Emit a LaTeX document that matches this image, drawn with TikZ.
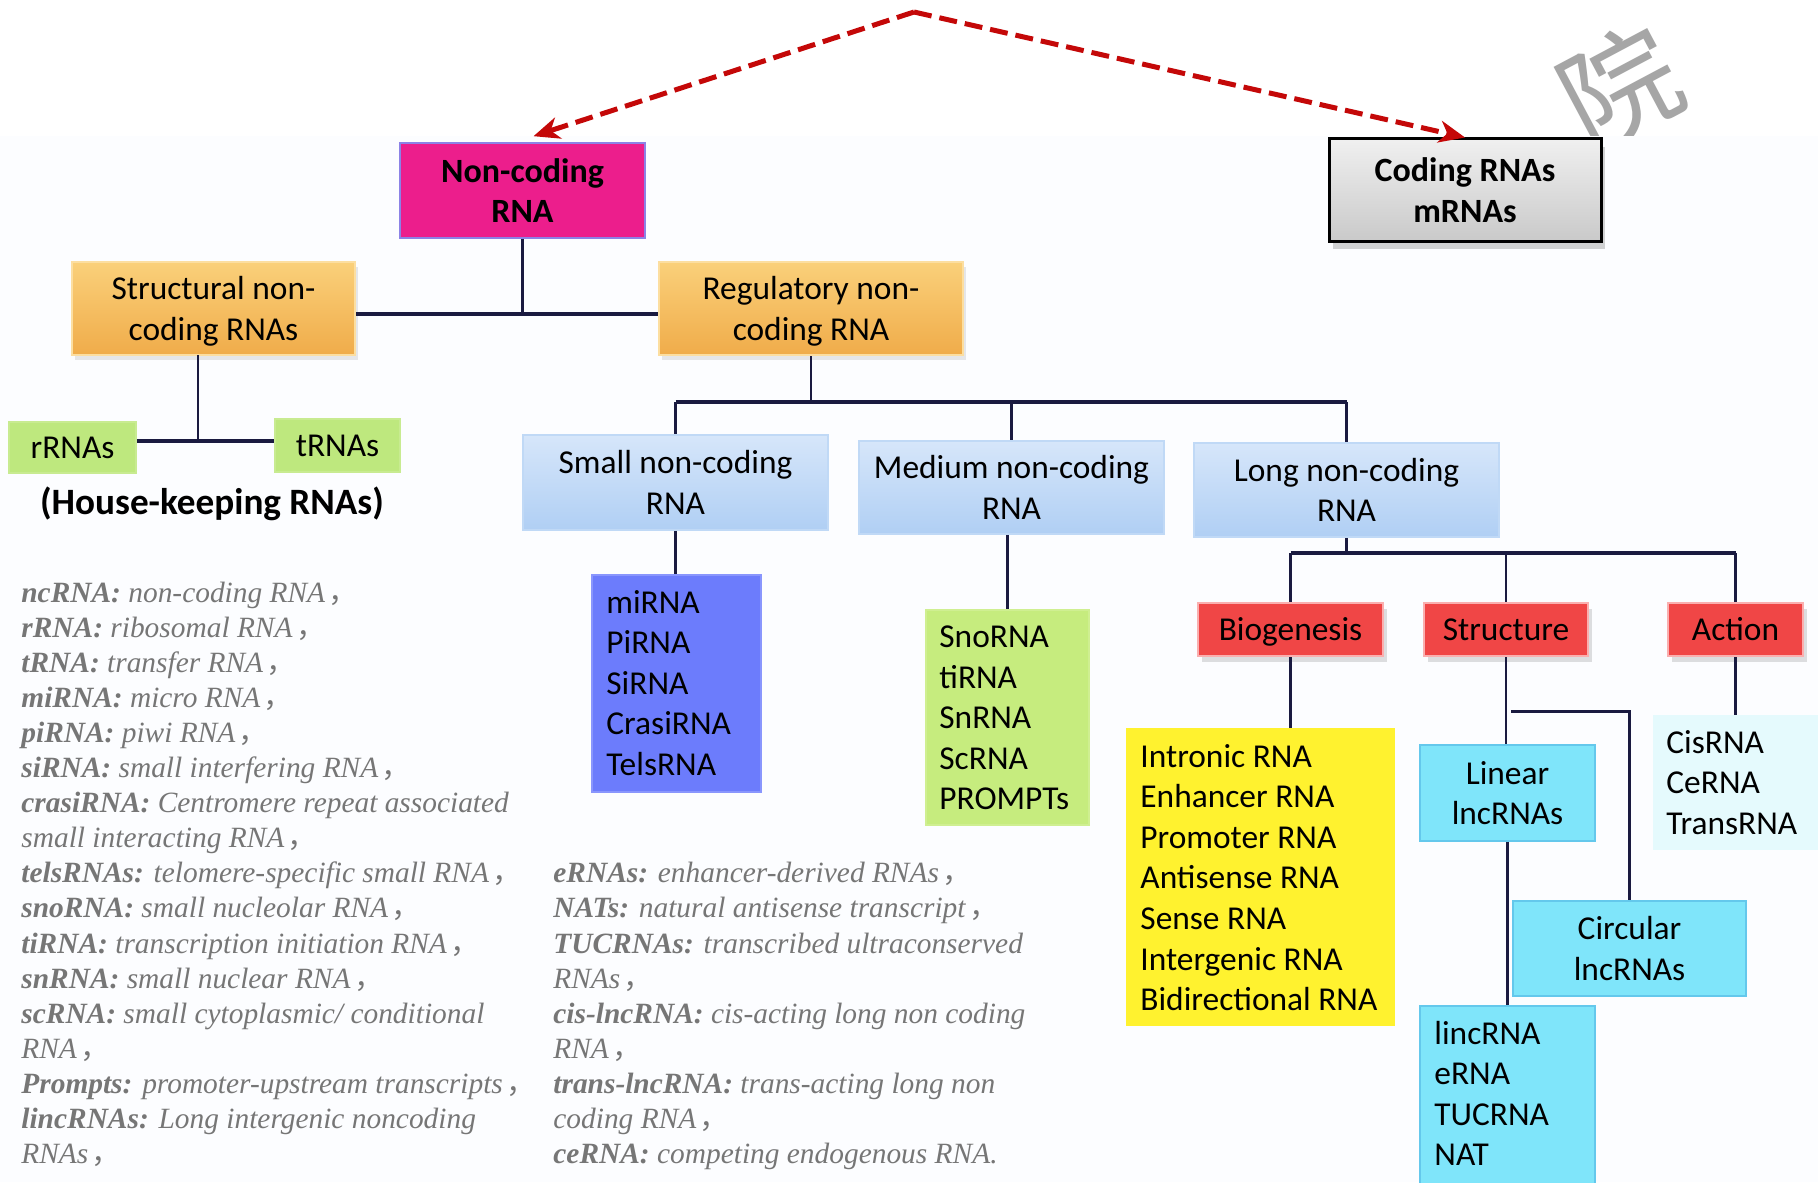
\documentclass[tikz,border=0pt]{standalone}
\usepackage{fontspec}
\setmainfont{Carlito}
\newfontfamily\deffont{Liberation Serif}
\newfontfamily\cjk{Noto Sans CJK SC}
\usetikzlibrary{shadows,arrows.meta,calc}

\definecolor{paper}{RGB}{252,253,255}
\definecolor{linkc}{RGB}{26,26,64}
\definecolor{arrowred}{RGB}{196,8,8}
\definecolor{magentabox}{RGB}{236,30,140}
\definecolor{magentaedge}{RGB}{140,130,230}
\definecolor{orangetop}{RGB}{250,208,122}
\definecolor{orangebot}{RGB}{240,172,74}
\definecolor{orangeedge}{RGB}{252,222,160}
\definecolor{leaf}{RGB}{190,232,126}
\definecolor{bluetop}{RGB}{214,230,250}
\definecolor{bluebot}{RGB}{176,207,244}
\definecolor{violetbox}{RGB}{108,124,252}
\definecolor{limebox}{RGB}{198,236,126}
\definecolor{redbox}{RGB}{240,70,70}
\definecolor{rededge}{RGB}{250,175,175}
\definecolor{yellowbox}{RGB}{255,242,47}
\definecolor{cyanbox}{RGB}{127,229,250}
\definecolor{cyanedge}{RGB}{100,200,236}
\definecolor{palecyan}{RGB}{229,250,253}
\definecolor{defgray}{RGB}{118,118,118}
\definecolor{markgray}{RGB}{166,166,166}

% bold-italic abbreviation and the full-width comma of the glossary
\newcommand\ab[1]{\textbf{#1}}
\newcommand\cm{\hspace{0.12em}{\cjk ，}}

\begin{document}
\begin{tikzpicture}[x=0.5pt,y=-0.5pt,
  txt/.style={font=\fontsize{16.7}{20.3}\selectfont, text=black, align=center, inner sep=0pt},
  oneline/.style={text height=12.5pt, text depth=1.7pt},
  boldtxt/.style={font=\fontsize{17}{20.3}\selectfont\bfseries, text=black, align=center, inner sep=0pt},
  link/.style={draw=linkc, line width=1.1pt},
  bar/.style={draw=linkc, line width=1.8pt},
  dasharrow/.style={draw=arrowred, line width=2.5pt, dash pattern=on 9pt off 4pt,
    -{Stealth[length=13pt,width=11pt,inset=4pt]}},
  topbox/.style={txt, boldtxt, fill=magentabox, draw=magentaedge, line width=0.8pt},
  codebox/.style={boldtxt, top color=gray!12, bottom color=gray!42, draw=black, line width=1.5pt,
    drop shadow={opacity=0.35, shadow xshift=2pt, shadow yshift=-4pt}},
  bevelbox/.style={txt, text depth=0pt, top color=orangetop, bottom color=orangebot, draw=orangeedge, line width=1.2pt,
    drop shadow={opacity=0.18, shadow xshift=1.5pt, shadow yshift=-2.5pt}},
  leafbox/.style={txt, oneline, fill=leaf, draw=leaf!85!white, line width=0.8pt},
  classbox/.style={txt, top color=bluetop, bottom color=bluebot, draw=bluebot!80!white, line width=0.8pt},
  listbox/.style={inner sep=0pt},
  redlabel/.style={txt, oneline, fill=redbox, draw=rededge, line width=1.4pt,
    drop shadow={opacity=0.25, shadow xshift=2pt, shadow yshift=-3pt}},
  cyanlabel/.style={txt, fill=cyanbox, draw=cyanedge, line width=0.8pt},
  item/.style={font=\fontsize{16.7}{20.3}\selectfont, text=black, anchor=base west, inner sep=0pt},
  gloss/.style={font=\fontsize{14.7}{17.5}\deffont\itshape, text=defgray, anchor=base west, inner sep=0pt}
]
\useasboundingbox (0,0) rectangle (1818,1182);
\fill[white] (0,0) rectangle (1818,1182);

% faint stamp behind the upper right corner, covered by the panel below
\node[font=\fontsize{58}{58}\cjk, text=markgray, rotate=28, inner sep=0pt] (stamp) at (1620,87) {院};
\fill[paper] (0,136) rectangle (1818,1182);

% ---------------- top level ----------------
\node[topbox, minimum width=122.5pt, minimum height=47.5pt] (nc) at (522.5,190.5) {Non-coding\\RNA};
\node[codebox, minimum width=136pt, minimum height=51pt] (cod) at (1465,190) {Coding RNAs\\mRNAs};

\coordinate (apex) at (914,12);
\draw[dasharrow] (apex) -- ([shift={(11,-6)}]nc.north);
\draw[dasharrow] (apex) -- (cod.north);

% ---------------- second level ----------------
\node[bevelbox, minimum width=141.5pt, minimum height=46.5pt] (str) at (213.5,308.5) {Structural non-\\coding RNAs};
\node[bevelbox, minimum width=152pt, minimum height=46.5pt] (reg) at (811,308.5) {Regulatory non-\\coding RNA};

\coordinate (j1) at (522.5,314);
\draw[link] (nc.south) -- (j1);
\draw[bar] (str.east |- j1) -- (reg.west |- j1);

% house-keeping RNAs
\node[leafbox, minimum width=63.5pt, minimum height=25.5pt] (rr) at (72.5,447.5) {rRNAs};
\node[leafbox, minimum width=62.5pt, minimum height=26.5pt] (tr) at (337.5,445.5) {tRNAs};
\node[font=\fontsize{18.6}{22}\selectfont\bfseries, inner sep=0pt] (hk) at (212,504) {(House-keeping RNAs)};

\coordinate (j2) at (198,441);
\draw[link] (198,355) -- (j2);
\draw[bar] (rr.east |- j2) -- (tr.west |- j2);

% ---------------- size classes ----------------
\node[classbox, minimum width=152.5pt, minimum height=47.5pt] (sm) at (675.5,482.5) {Small non-coding\\RNA};
\node[classbox, minimum width=152.5pt, minimum height=46.5pt] (md) at (1011.5,487.5) {Medium non-coding\\RNA};
\node[classbox, minimum width=152.5pt, minimum height=47pt] (lg) at (1346.5,490) {Long non-coding\\RNA};

\coordinate (j3) at (811,402);
\draw[link] (reg.south) -- (j3);
\draw[bar] (sm.north |- j3) -- (lg.north |- j3);
\draw[link] (sm.north |- j3) -- (sm.north);
\draw[link] (md.north |- j3) -- (md.north);
\draw[link] (lg.north |- j3) -- (lg.north);

% small ncRNA members
\node[listbox, fill=violetbox, draw=violetbox!80!white, line width=0.8pt,
  minimum width=84.5pt, minimum height=108.5pt] (mi) at (676.5,683.5) {};
\draw[link] (sm.south) -- (sm.south |- mi.north);
\foreach \t [count=\i from 0] in {miRNA,PiRNA,SiRNA,CrasiRNA,TelsRNA}
  \node[item] (mi\i) at (606,613+40.6*\i) {\t};

% medium ncRNA members
\node[listbox, fill=limebox, draw=limebox!85!white, line width=0.8pt,
  minimum width=81.5pt, minimum height=107.5pt] (gr) at (1007.5,717.5) {};
\draw[link] (gr.north |- md.south) -- (gr.north);
\foreach \t [count=\i from 0] in {SnoRNA,tiRNA,SnRNA,ScRNA,PROMPTs}
  \node[item] (gr\i) at (939,647.5+40.6*\i) {\t};

% ---------------- long ncRNA aspects ----------------
\node[redlabel, minimum width=92.5pt, minimum height=26.5pt] (bio) at (1290.5,629.5) {Biogenesis};
\node[redlabel, minimum width=82pt, minimum height=26.5pt] (stc) at (1506,629.5) {Structure};
\node[redlabel, minimum width=67.5pt, minimum height=26.5pt] (act) at (1735.5,629.5) {Action};

\coordinate (j4) at (1346.5,553);
\draw[link] (lg.south) -- (j4);
\draw[bar] (bio.north |- j4) -- (act.north |- j4);
\draw[link] (bio.north |- j4) -- (bio.north);
\draw[link] (stc.north |- j4) -- (stc.north);
\draw[link] (act.north |- j4) -- (act.north);

% biogenesis
\node[listbox, fill=yellowbox, minimum width=134.5pt, minimum height=149pt] (yel) at (1260.5,877) {};
\draw[link] (bio.south) -- (bio.south |- yel.north);
\foreach \t [count=\i from 0] in {Intronic RNA,Enhancer RNA,Promoter RNA,Antisense RNA,Sense RNA,Intergenic RNA,Bidirectional RNA}
  \node[item] (yl\i) at (1140,767+40.6*\i) {\t};

% structure
\node[cyanlabel, minimum width=87.5pt, minimum height=48pt] (lin) at (1507.5,793) {Linear\\lncRNAs};
\node[cyanlabel, minimum width=116.5pt, minimum height=47.5pt] (cir) at (1629.5,948.5) {Circular\\lncRNAs};
\node[listbox, fill=cyanbox, draw=cyanedge, line width=0.8pt,
  minimum width=87.5pt, minimum height=92pt] (linc) at (1507.5,1098) {};
\draw[link] (stc.south) -- (stc.south |- lin.north);
\coordinate (j5) at (1511,711);
\draw[link, line width=1.5pt] (j5) -| (cir.north);
\draw[link] (lin.south) -- (linc.north);
\foreach \t [count=\i from 0] in {lincRNA,eRNA,TUCRNA,NAT}
  \node[item] (lc\i) at (1434,1044+40.6*\i) {\t};

% action
\node[listbox, fill=palecyan, minimum width=88.5pt, minimum height=67.5pt] (acl) at (1741.5,782.5) {};
\draw[link] (act.south) -- (act.south |- acl.north);
\foreach \t [count=\i from 0] in {CisRNA,CeRNA,TransRNA}
  \node[item] (ac\i) at (1666,753+40.6*\i) {\t};

% ---------------- glossary ----------------
\foreach \t [count=\i from 0] in {
  {\ab{ncRNA:} non-coding RNA\cm},
  {\ab{rRNA:} ribosomal RNA\cm},
  {\ab{tRNA:} transfer RNA\cm},
  {\ab{miRNA:} micro RNA\cm},
  {\ab{piRNA:} piwi RNA\cm},
  {\ab{siRNA:} small interfering RNA\cm},
  {\ab{crasiRNA:} Centromere repeat associated},
  {small interacting RNA\cm},
  {\ab{telsRNAs:} telomere-specific small RNA\cm},
  {\ab{snoRNA:} small nucleolar RNA\cm},
  {\ab{tiRNA:} transcription initiation RNA\cm},
  {\ab{snRNA:} small nuclear RNA\cm},
  {\ab{scRNA:} small cytoplasmic/ conditional},
  {RNA\cm},
  {\ab{Prompts:} promoter-upstream transcripts\cm},
  {\ab{lincRNAs:} Long intergenic noncoding},
  {RNAs\cm}}
  \node[gloss] (gl\i) at (21,602+35.1*\i) {\t};

\foreach \t [count=\i from 0] in {
  {\ab{eRNAs:} enhancer-derived RNAs\cm},
  {\ab{NATs:} natural antisense transcript\cm},
  {\ab{TUCRNAs:} transcribed ultraconserved},
  {RNAs\cm},
  {\ab{cis-lncRNA:} cis-acting long non coding},
  {RNA\cm},
  {\ab{trans-lncRNA:} trans-acting long non},
  {coding RNA\cm},
  {\ab{ceRNA:} competing endogenous RNA.}}
  \node[gloss] (gr\i) at (553,882.8+35.1*\i) {\t};
\end{tikzpicture}
\end{document}
